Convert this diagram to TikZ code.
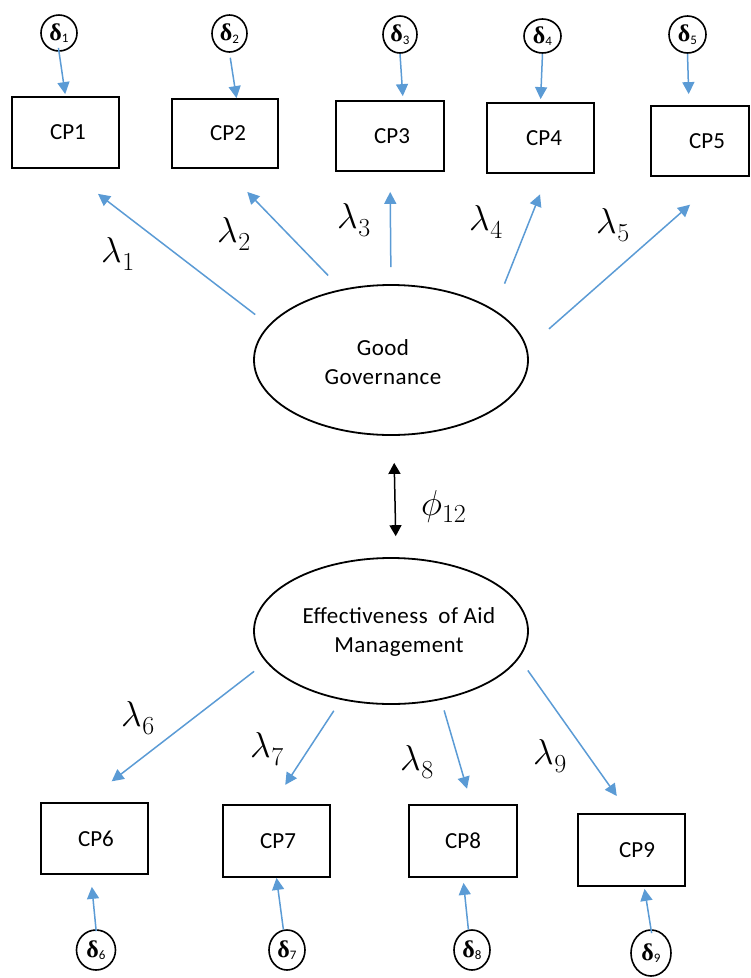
\RequirePackage{fix-cm}
\documentclass[tikz,border=0pt]{standalone}
\usepackage{fontspec}
\usetikzlibrary{arrows.meta,shapes.geometric}
\newfontfamily\cpf{Carlito}
\newfontfamily\cpfs{Carlito}[LetterSpace=2]
\newfontfamily\dgf{Liberation Serif}
\definecolor{arrblue}{HTML}{5B9BD5}
\newcommand{\dlt}[1]{{\dgf\bfseries\fontsize{24}{24}\selectfont δ}{\cpf\fontsize{13}{13}\selectfont\raisebox{-2.5pt}{#1}}}
\newcommand{\coef}[2]{{\fontsize{36}{40}\selectfont$#1$}\kern0.5pt\raisebox{-8pt}{\fontsize{26}{28}\selectfont$#2$}}
\tikzset{
  cpbox/.style={draw=black, line width=1.8pt, rectangle, inner sep=0pt,
    minimum width=107pt, minimum height=71pt, font=\cpf\fontsize{23}{26}\selectfont},
  errnode/.style={draw=black, line width=1.6pt, ellipse, inner sep=0pt},
  latent/.style={draw=black, line width=1.8pt, ellipse, inner sep=0pt,
    minimum width=274pt, minimum height=150pt},
  lattext/.style={align=center, inner sep=0pt, font=\cpfs\fontsize{23}{29}\selectfont},
  load/.style={draw=arrblue, line width=1.5pt, -{Triangle[width=12pt,length=12pt]}},
  lab/.style={anchor=base west, inner sep=0pt},
  corr/.style={draw=black, line width=1.5pt,
    {Triangle[width=12pt,length=11pt]}-{Triangle[width=12pt,length=11pt]}}
}
\begin{document}
\begin{tikzpicture}[x=1pt,y=-1pt]
\useasboundingbox (0,0) rectangle (751,978);

% measured variables (top)
\node[cpbox, minimum width=107pt, minimum height=71pt] (CP1) at (65.5,132.5) {\hspace*{5pt}CP1};
\node[cpbox, minimum width=106pt, minimum height=69pt] (CP2) at (225,133.5) {\hspace*{6pt}CP2};
\node[cpbox, minimum width=108pt, minimum height=70pt] (CP3) at (390,136) {\hspace*{4pt}CP3};
\node[cpbox, minimum width=107pt, minimum height=70pt] (CP4) at (540.5,138) {\hspace*{7pt}CP4};
\node[cpbox, minimum width=98pt, minimum height=70pt] (CP5) at (700,141) {\hspace*{14pt}CP5};

% measured variables (bottom)
\node[cpbox, minimum width=107pt, minimum height=71pt] (CP6) at (94.5,838.5) {\hspace*{3pt}CP6};
\node[cpbox, minimum width=107pt, minimum height=72pt] (CP7) at (276.5,841) {\hspace*{3pt}CP7};
\node[cpbox, minimum width=108pt, minimum height=72pt] (CP8) at (463,841) {CP8};
\node[cpbox, minimum width=107pt, minimum height=72pt] (CP9) at (631.5,850) {\hspace*{11pt}CP9};

% error terms
\node[errnode, minimum width=36pt, minimum height=36pt] (d1) at (59,33) {\dlt{1}};
\node[errnode, minimum width=35pt, minimum height=37pt] (d2) at (229.5,33.5) {\dlt{2}};
\node[errnode, minimum width=34pt, minimum height=37pt] (d3) at (400,34.5) {\dlt{3}};
\node[errnode, minimum width=37pt, minimum height=34pt] (d4) at (542.5,36) {\dlt{4}};
\node[errnode, minimum width=37pt, minimum height=37pt] (d5) at (687.5,34.5) {\dlt{5}};
\node[errnode, minimum width=39pt, minimum height=40pt] (d6) at (96,950) {\dlt{6}};
\node[errnode, minimum width=36pt, minimum height=40pt] (d7) at (287,950) {\dlt{7}};
\node[errnode, minimum width=36pt, minimum height=40pt] (d8) at (472,950) {\dlt{8}};
\node[errnode, minimum width=40pt, minimum height=46pt] (d9) at (651,953) {\dlt{9}};

% latent variables
\node[latent, minimum height=150pt] (GG) at (391,360) {};
\node[lattext] (GGt) at (383,362) {Good\\Governance};
\node[latent, minimum height=146pt] (EAM) at (391,631) {};
\node[lattext] (EAMt) at (399,632) {Effectiveness\hspace{5pt} of Aid\\Management};

% error arrows
\draw[load, shorten <=-4pt, shorten >=2pt] (d1.south) -- (CP1.north);
\draw[load, shorten <=5pt] (d2.south) -- (CP2.72);
\draw[load, shorten >=4pt] (d3.south) -- (CP3.70);
\draw[load, shorten >=3pt] (d4.south) -- (CP4.north);
\draw[load, shorten >=11pt] (d5.south) -- (CP5.107);
\draw[load, shorten <=-2pt, shorten >=12pt] (d6.north) -- (CP6.-96);
\draw[load] (d7.100) -- (CP7.south);
\draw[load, shorten >=5pt] (d8.100) -- (CP8.south);
\draw[load, shorten <=-4pt, shorten >=2pt] (d9.north) -- (CP9.-71);

% loadings
\draw[load, shorten <=17pt, shorten >=41pt] (GG.164) -- (CP1.south);
\draw[load, shorten <=19pt, shorten >=32pt] (GG.125) -- (CP2.south);
\draw[load, shorten <=17pt, shorten >=20pt] (GG.90) -- (CP3.south);
\draw[load, shorten <=28pt, shorten >=22pt] (GG.26) -- (CP4.-78);
\draw[load, shorten <=29pt, shorten >=42pt] (GG.5) -- (CP5.-59.5);
\draw[load, shorten <=15pt, shorten >=34pt] (EAM.194) -- (CP6.105);
\draw[load, shorten <=13pt, shorten >=23pt] (EAM.234) -- (CP7.96);
\draw[load, shorten <=11pt, shorten >=16pt] (EAM.-54) -- (CP8.77);
\draw[load, shorten <=15pt, shorten >=21pt] (EAM.-12) -- (CP9.94);

% correlation
\draw[corr, shorten <=27pt, shorten >=21pt] (GG.-88) -- (EAM.86);

% labels
\node[lab] (l1) at (101,262) {\coef{\lambda}{1}};
\node[lab] (l2) at (217,242) {\coef{\lambda}{2}};
\node[lab] (l3) at (337,228) {\coef{\lambda}{3}};
\node[lab] (l4) at (469,230) {\coef{\lambda}{4}};
\node[lab] (l5) at (596,233) {\coef{\lambda}{5}};
\node[lab] (l6) at (121,726) {\coef{\lambda}{6}};
\node[lab] (l7) at (250,757) {\coef{\lambda}{7}};
\node[lab] (l8) at (400,770) {\coef{\lambda}{8}};
\node[lab] (l9) at (533,764) {\coef{\lambda}{9}};
\node[lab] (phi) at (421,515) {{\fontsize{36}{40}\selectfont$\phi$}\raisebox{-7pt}{\fontsize{26}{28}\selectfont$12$}};
\end{tikzpicture}
\end{document}
